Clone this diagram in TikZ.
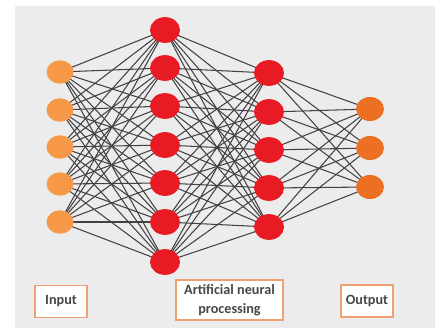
\documentclass[tikz,border=0pt]{standalone}
\usepackage{fontspec}
\setmainfont{Carlito}
\usetikzlibrary{shapes.geometric}
\definecolor{bggray}{RGB}{236,236,236}
\definecolor{inorange}{RGB}{247,152,72}
\definecolor{outorange}{RGB}{236,112,36}
\definecolor{hidred}{RGB}{232,26,36}
\definecolor{edgegray}{RGB}{66,66,66}
\definecolor{boxorange}{RGB}{238,160,115}
\pgfdeclarelayer{backdrop}
\pgfdeclarelayer{links}
\pgfsetlayers{backdrop,links,main}
\begin{document}
\begin{tikzpicture}[x=1pt,y=-1pt,
  neuron/.style={ellipse,inner sep=0pt,minimum width=#1,minimum height=#1*0.86},
  inneuron/.style={neuron=27pt,fill=inorange},
  hidneuron/.style={neuron=30pt,fill=hidred},
  outneuron/.style={neuron=28pt,fill=outorange},
  link/.style={draw=edgegray,line width=1.05pt},
  labelbox/.style={draw=boxorange,line width=1.3pt,fill=white,align=center,
    font=\bfseries\fontsize{14.2}{18.5}\selectfont,text=black!72,inner sep=0pt}]
\useasboundingbox (0,0) rectangle (440,329);
\begin{pgfonlayer}{backdrop}
\fill[bggray] (15,6) rectangle (435,328);
\end{pgfonlayer}
% layers of neurons
\foreach \i/\y in {1/72,2/110,3/147,4/184,5/222}
  \node[inneuron] (a\i) at (60,\y) {};
\foreach \i/\y in {1/30,2/68,3/106,4/145,5/183,6/222,7/262}
  \node[hidneuron] (b\i) at (165,\y) {};
\foreach \i/\y in {1/73,2/112,3/150,4/188,5/227}
  \node[hidneuron] (c\i) at (269,\y) {};
\foreach \i/\y in {1/109,2/148,3/187}
  \node[outneuron] (d\i) at (370,\y) {};
% full connections between consecutive layers, kept under the neurons
\begin{pgfonlayer}{links}
\foreach \i in {1,...,5}
  \foreach \j in {1,...,7}
    \draw[link] (a\i.center) -- (b\j.center);
\foreach \i in {1,...,7}
  \foreach \j in {1,...,5}
    \draw[link] (b\i.center) -- (c\j.center);
\foreach \i in {1,...,5}
  \foreach \j in {1,...,3}
    \draw[link] (c\i.center) -- (d\j.center);
\end{pgfonlayer}
% captions
\node[labelbox,minimum width=52pt,minimum height=32pt] (inlabel) at (61,301.5) {Input};
\node[labelbox,minimum width=107pt,minimum height=40pt] (annlabel) at (229.5,300) {Artificial neural\\processing};
\node[labelbox,minimum width=52pt,minimum height=32pt] (outlabel) at (367,301) {Output};
\end{tikzpicture}
\end{document}
